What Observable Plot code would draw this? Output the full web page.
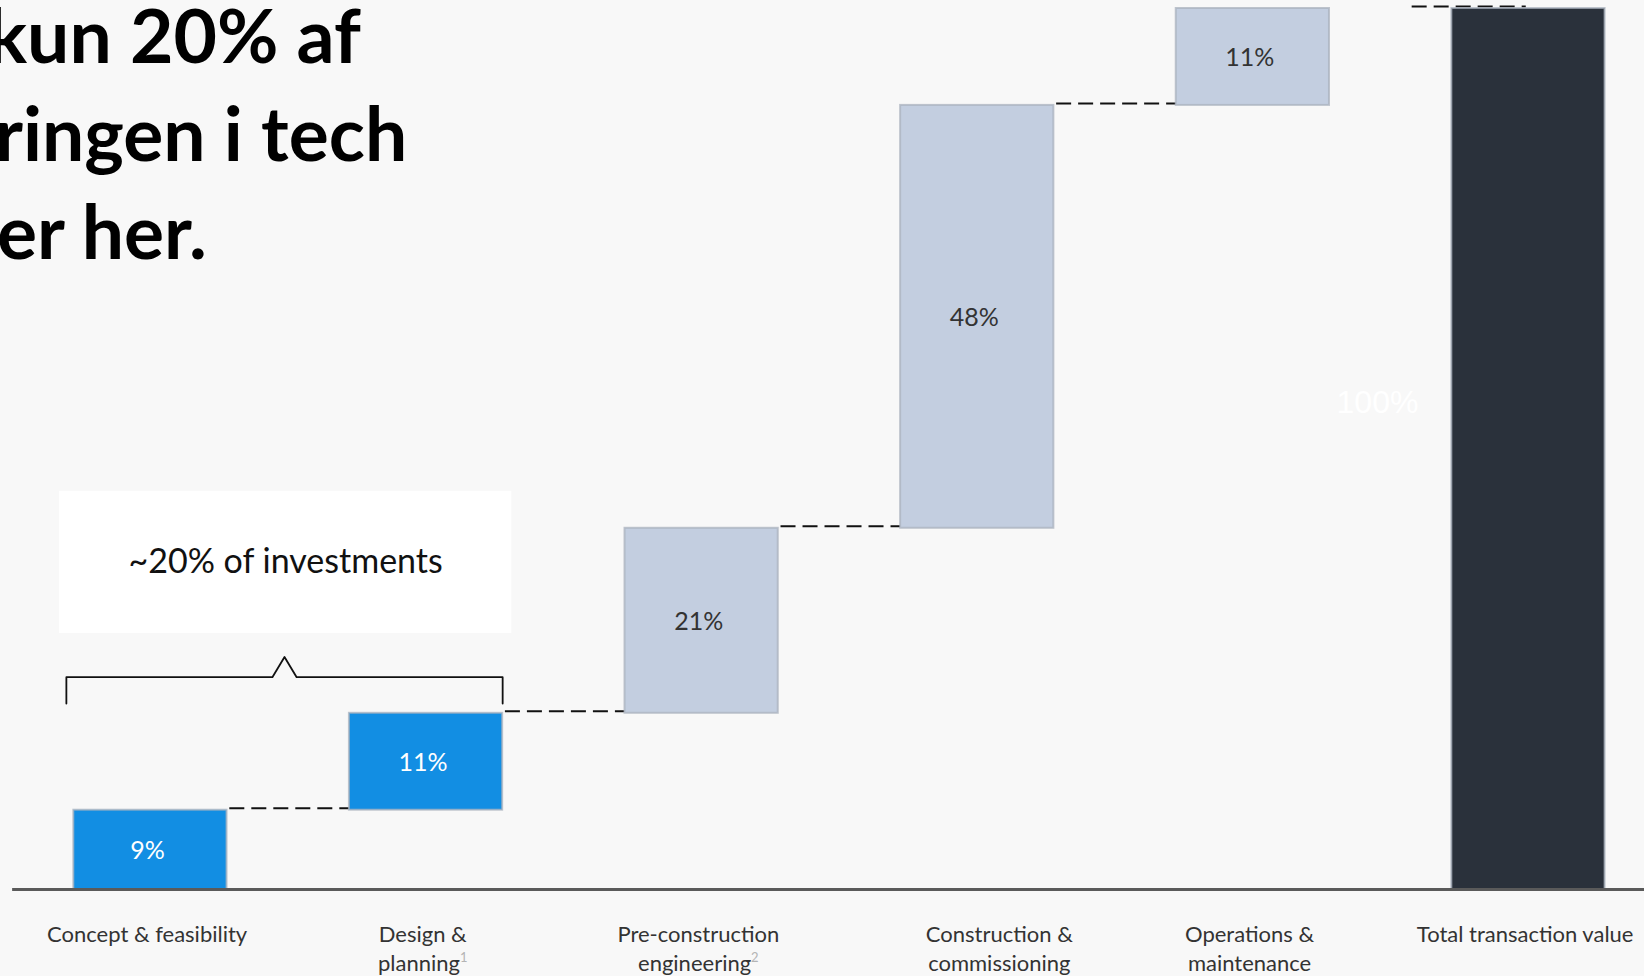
<!DOCTYPE html>
<html>
<head>
<meta charset="utf-8">
<script src="https://cdn.jsdelivr.net/npm/d3@7"></script>
<script src="https://cdn.jsdelivr.net/npm/@observablehq/plot@0.6"></script>
<style>
  html, body { margin: 0; padding: 0; background: #f8f8f8; overflow: hidden; }
  #wrap { position: relative; width: 1644px; height: 976px; }
  #title {
    position: absolute; left: -9px; top: -15px; z-index: 2;
    font-family: Lato, sans-serif; font-weight: 700; font-size: 75px;
    line-height: 98px; color: #000; white-space: nowrap;
  }
  #title span { display: block; }
  #chart { position: absolute; left: 0; top: 0; }
</style>
</head>
<body>
<div id="wrap">
  <div id="title"><span style="margin-left:-4px">kun 20% af</span><span style="margin-left:4px">ringen i tech</span><span style="margin-left:6px">er her.</span></div>
  <div id="chart"></div>
</div>
<script>
// ---- data ----
const categories = ["Concept & feasibility", "Design &\nplanning", "Pre-construction\nengineering", "Construction &\ncommissioning", "Operations &\nmaintenance", "Total transaction value"];
const footnotes = ["", "1", "2", "", "", ""];
const values = [9, 11, 21, 48, 11, 100];
const kinds = ["focus", "focus", "other", "other", "other", "total"];
const valueLabels = ["9%", "11%", "21%", "48%", "11%", "100%"];
const annotationText = "~20% of investments";
const annotationShare = 20; // cumulative share of the bracketed stages

// ---- derived waterfall table ----
let cum = 0;
const rows = values.map((v, i) => {
  const isTotal = kinds[i] === "total";
  const start = isTotal ? 0 : cum;
  const end = isTotal ? v : cum + v;
  if (!isTotal) cum = end;
  return { i, v, start, end, kind: kinds[i], label: valueLabels[i], cat: categories[i] };
});

const hw = 0.278; // half bar width in band units
const fills = { focus: "#128ee3", other: "#c3cee0", total: "#2a313b" };
const textFill = { focus: "#ffffff", other: "#333333", total: "#ffffff" };

const connectors = rows.slice(0, -1).map((r, k) => {
  const last = k === rows.length - 2;
  return {
    y: r.end,
    x1: r.i + hw + (last ? 0.30 : 0.01),
    x2: r.i + 1 - hw + (last ? 0.27 : 0)
  };
});

// bracket above the first two stages
const bLevel = annotationShare + 4.1, bFoot = annotationShare + 1.1, bPeak = annotationShare + 6.4;
const bLeft = 0 - hw - 0.027, bRight = 1 + hw;
const bMid = (bLeft + bRight) / 2, caret = 0.044;
const bracket = [
  { x: bLeft, y: bFoot }, { x: bLeft, y: bLevel }, { x: bMid - caret, y: bLevel },
  { x: bMid, y: bPeak }, { x: bMid + caret, y: bLevel }, { x: bRight, y: bLevel }, { x: bRight, y: bFoot }
];
const box = [{ x1: bLeft - 0.025, x2: bRight + 0.033, y1: annotationShare + 9.05, y2: annotationShare + 25.2 }];

const plot = Plot.plot({
  width: 1644,
  height: 976,
  marginLeft: 0,
  marginRight: 0,
  marginTop: 8,
  marginBottom: 87,
  x: { domain: [-0.544, 5.421], axis: null },
  y: { domain: [0, 100], axis: null },
  color: { type: "identity" },
  style: { background: "transparent", overflow: "visible" },
  marks: [
    // annotation box + text
    Plot.rect(box, { x1: "x1", x2: "x2", y1: "y1", y2: "y2", fill: "#ffffff" }),
    Plot.text([annotationText], {
      x: (box[0].x1 + box[0].x2) / 2, y: (box[0].y1 + box[0].y2) / 2,
      text: d => d, fontSize: 34, fontFamily: "Lato, sans-serif", fill: "#111"
    }),
    Plot.line(bracket, { x: "x", y: "y", stroke: "#111", strokeWidth: 1.8, curve: "linear" }),
    // connectors
    Plot.ruleY(connectors, { y: "y", x1: "x1", x2: "x2", dy: -2, stroke: "#111", strokeWidth: 2, strokeDasharray: "15,7" }),
    // bars
    Plot.rect(rows, {
      x1: d => d.i - hw, x2: d => d.i + hw, y1: "start", y2: "end",
      fill: d => fills[d.kind], stroke: "#a9b1bd", strokeOpacity: 0.75, strokeWidth: 2
    }),
    // baseline
    Plot.ruleY([0], { x1: -0.5, x2: 5.421, stroke: "#5a5a5a", strokeWidth: 3 }),
    // value labels
    Plot.text(rows.filter(d => d.kind !== "total"), {
      x: "i", y: d => (d.start + d.end) / 2, text: "label", dx: -3, dy: 1,
      fill: d => textFill[d.kind], fontSize: 25, fontFamily: "Lato, sans-serif"
    }),
    Plot.text(rows.filter(d => d.kind === "total"), {
      x: "i", y: d => (d.start + d.end) / 2, text: "label", dx: -151, dy: -46,
      fill: "#ffffff", fontSize: 32, fontFamily: "'Liberation Sans', Arial, sans-serif"
    }),
    // category labels
    Plot.text(rows, {
      x: d => d.i + (d.i === 3 ? 0.08 : -0.012), y: 0, text: "cat", lineAnchor: "top", dy: 32, lineHeight: 1.32,
      fill: "#333", fontSize: 22, fontFamily: "Lato, sans-serif"
    })
  ]
});

// superscript footnote markers on category labels
const svgns = "http://www.w3.org/2000/svg";
plot.querySelectorAll("text").forEach(t => {
  const spans = t.querySelectorAll("tspan");
  if (!spans.length) return;
  const full = Array.from(spans).map(s => s.textContent).join("\n");
  const idx = categories.indexOf(full);
  if (idx >= 0 && footnotes[idx]) {
    const sup = document.createElementNS(svgns, "tspan");
    sup.setAttribute("font-size", "13");
    sup.setAttribute("fill", "#b4b4b4");
    sup.setAttribute("dy", "-9");
    sup.textContent = footnotes[idx];
    spans[spans.length - 1].appendChild(sup);
  }
});

document.getElementById("chart").appendChild(plot);
</script>
</body>
</html>
